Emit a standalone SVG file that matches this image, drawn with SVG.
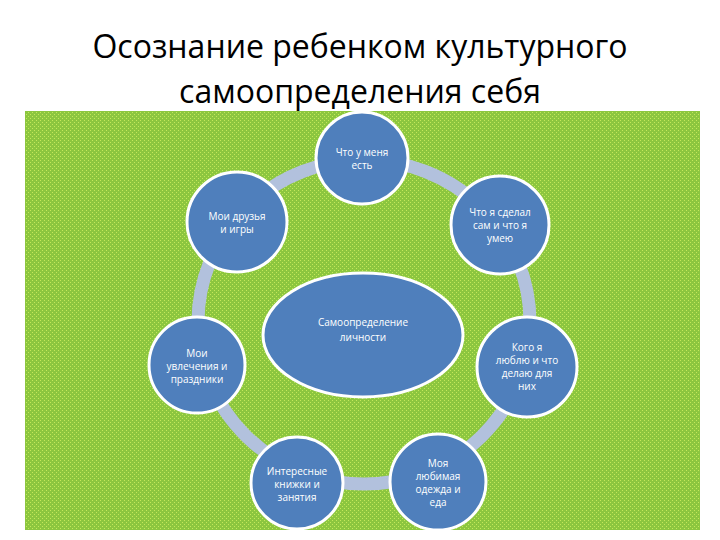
<svg xmlns="http://www.w3.org/2000/svg" width="720" height="540" viewBox="0 0 720 540">
<defs>
<pattern id="dots" width="4" height="4" patternUnits="userSpaceOnUse">
<rect width="4" height="4" fill="#8cc63f"/>
<rect x="0" y="0" width="1" height="1" fill="#c4e85a"/>
<rect x="2" y="2" width="1" height="1" fill="#c4e85a"/>
</pattern>
<style>
.n{fill:#4f7fbc;stroke:#fff;stroke-width:3}
.t{font-family:"Open Sans","DejaVu Sans",sans-serif;font-size:10px;fill:#fff;text-anchor:middle}
</style>
</defs>
<rect width="720" height="540" fill="#fff"/>
<text x="360" y="58" font-family="Open Sans, sans-serif" font-size="32" text-anchor="middle" fill="#000">Осознание ребенком культурного</text>
<text x="360" y="103" font-family="Open Sans, sans-serif" font-size="32" text-anchor="middle" fill="#000">самоопределения себя</text>
<rect x="25" y="111" width="675" height="419" fill="url(#dots)"/>
<g id="connectors">
<ellipse cx="364" cy="322" rx="166" ry="162" fill="none" stroke="#b2c1dd" stroke-width="13"/>
</g>
<g id="center"><ellipse class="n" cx="363" cy="335" rx="100" ry="62"/><text class="t" x="363" y="326" font-size="12">Самоопределение</text><text class="t" x="363" y="341" font-size="12">личности</text></g>
<g id="n1"><circle class="n" cx="362" cy="158" r="46"/><text class="t" x="362" y="156">Что у меня</text><text class="t" x="362" y="169">есть</text></g>
<g id="n2"><circle class="n" cx="500" cy="225" r="49"/><text class="t" x="500" y="216">Что я сделал</text><text class="t" x="500" y="229">сам и что я</text><text class="t" x="500" y="242">умею</text></g>
<g id="n3"><circle class="n" cx="527" cy="367" r="50"/><text class="t" x="527" y="351">Кого я</text><text class="t" x="527" y="364">люблю и что</text><text class="t" x="527" y="377">делаю для</text><text class="t" x="527" y="390">них</text></g>
<g id="n4"><circle class="n" cx="438" cy="482" r="48"/><text class="t" x="438" y="467">Моя</text><text class="t" x="438" y="480">любимая</text><text class="t" x="438" y="493">одежда и</text><text class="t" x="438" y="506">еда</text></g>
<g id="n5"><circle class="n" cx="297" cy="483" r="46"/><text class="t" x="297" y="475">Интересные</text><text class="t" x="297" y="488">книжки и</text><text class="t" x="297" y="501">занятия</text></g>
<g id="n6"><circle class="n" cx="197" cy="365" r="48"/><text class="t" x="197" y="357">Мои</text><text class="t" x="197" y="370">увлечения и</text><text class="t" x="197" y="383">праздники</text></g>
<g id="n7"><circle class="n" cx="237" cy="222" r="50"/><text class="t" x="237" y="220">Мои друзья</text><text class="t" x="237" y="233">и игры</text></g>
</svg>
